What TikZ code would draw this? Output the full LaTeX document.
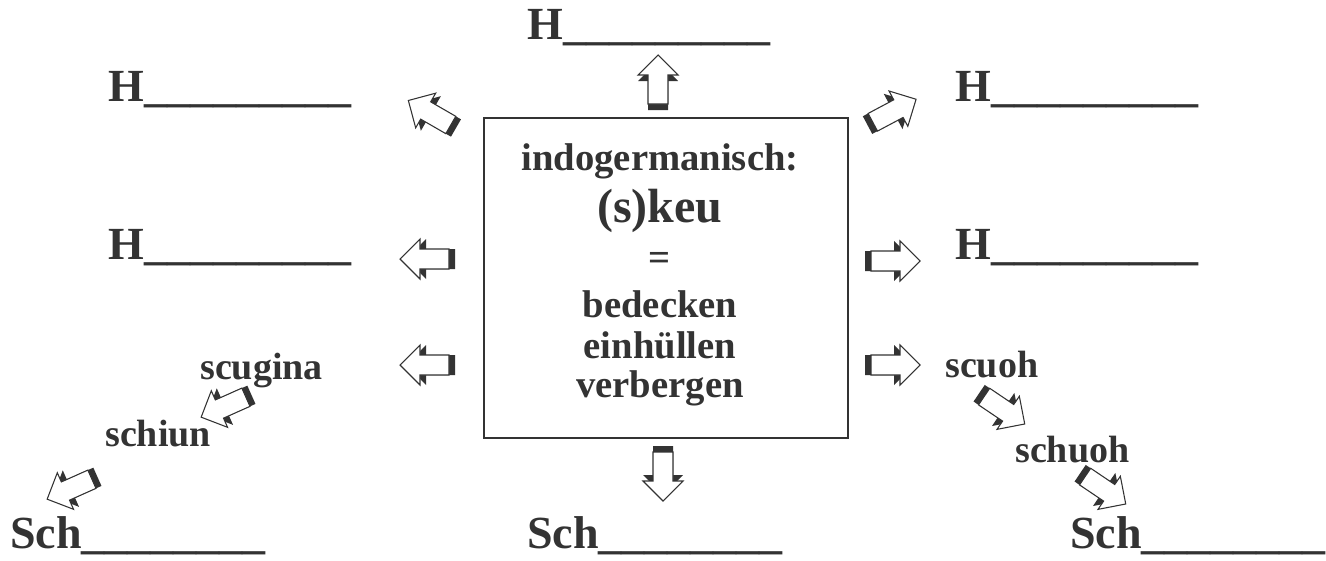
\documentclass[tikz,border=0pt]{standalone}
\usepackage{fontspec}
\setmainfont{Liberation Serif}
\definecolor{ink}{HTML}{333333}
\tikzset{
  blockarr/.pic={
    \path[fill=ink] (-30,-10) -- (-1,-10) -- (-1,-20) -- (19,0) -- (-1,20) -- (-1,10) -- (-30,10) -- cycle;
    \path[draw=ink,fill=white,line width=0.8pt] (-24,-10) -- (5,-10) -- (5,-20) -- (25,0) -- (5,20) -- (5,10) -- (-24,10) -- cycle;
  },
  lbl/.style={inner sep=0pt, anchor=base west, text=ink, font=\fontsize{34.5}{40}\selectfont\bfseries},
  word/.style={inner sep=0pt, anchor=base west, text=ink, font=\fontsize{28.5}{34}\selectfont\bfseries},
  boxtext/.style={inner sep=0pt, anchor=base, text=ink, font=\fontsize{29}{34}\selectfont\bfseries},
}
\begin{document}
\begin{tikzpicture}[x=0.75pt,y=-0.75pt]
\useasboundingbox (0,0) rectangle (1326,560);
% centre box
\node[draw=ink, line width=1.5pt, inner sep=0pt, minimum width=273pt, minimum height=240pt] (box) at (666,278) {};
\node[boxtext] (idg) at (660,170) {indogermanisch:};
\node[boxtext, font=\fontsize{36}{40}\selectfont\bfseries] (root) at (660,222) {(s)keu};
\node[boxtext] (eq) at (660,270) {=};
\node[boxtext] (m1) at (660,317) {bedecken};
\node[boxtext] (m2) at (660,358) {einhüllen};
\node[boxtext] (m3) at (660,397) {verbergen};
% blanks
\node[lbl] (hTop) at (527,40) {H\_\_\_\_\_\_\_\_\_};
\node[lbl] (hTL) at (108,101) {H\_\_\_\_\_\_\_\_\_};
\node[lbl] (hTR) at (955,101) {H\_\_\_\_\_\_\_\_\_};
\node[lbl] (hML) at (108,259) {H\_\_\_\_\_\_\_\_\_};
\node[lbl] (hMR) at (955,259) {H\_\_\_\_\_\_\_\_\_};
\node[lbl] (schL) at (10,548) {Sch\_\_\_\_\_\_\_\_};
\node[lbl] (schM) at (527,548) {Sch\_\_\_\_\_\_\_\_};
\node[lbl] (schR) at (1070,548) {Sch\_\_\_\_\_\_\_\_};
% old forms
\node[word] (scugina) at (200,379) {scugina};
\node[word] (schiun) at (105,446) {schiun};
\node[word] (scuoh) at (945,377) {scuoh};
\node[word] (schuoh) at (1015,462) {schuoh};
% block arrows
\pic[rotate=90] at (658,80) {blockarr};
\pic[rotate=150] at (430,113) {blockarr};
\pic[rotate=28] at (894,111) {blockarr};
\pic[rotate=180] at (425,259) {blockarr};
\pic[rotate=180] at (425,365) {blockarr};
\pic at (895,261) {blockarr};
\pic at (895,365) {blockarr};
\pic[rotate=-90] at (663,476) {blockarr};
\pic[rotate=204] at (224,407) {blockarr};
\pic[rotate=204] at (70,489) {blockarr};
\pic[rotate=-34] at (1004,410) {blockarr};
\pic[rotate=-34] at (1105,490) {blockarr};
\end{tikzpicture}
\end{document}
